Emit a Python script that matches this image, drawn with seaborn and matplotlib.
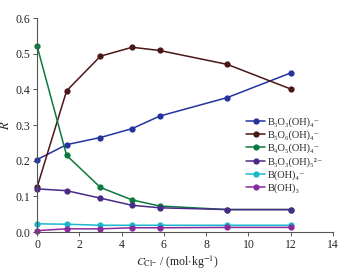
import matplotlib
matplotlib.use("Agg")
import matplotlib.pyplot as plt
import seaborn as sns
import numpy as np

x_cl = [0, 1.4, 3.0, 4.5, 5.8, 9.0, 12.0]
b3o3_oh4 = [0.203, 0.245, 0.265, 0.290, 0.325, 0.377, 0.446]
b5o6_oh4 = [0.125, 0.396, 0.493, 0.518, 0.509, 0.470, 0.401]
b4o5_oh4 = [0.522, 0.215, 0.125, 0.090, 0.073, 0.063, 0.063]
b3o3_oh5 = [0.121, 0.116, 0.095, 0.075, 0.068, 0.063, 0.063]
b_oh4 = [0.023, 0.022, 0.019, 0.019, 0.019, 0.019, 0.019]
b_oh3 = [0.004, 0.009, 0.009, 0.012, 0.012, 0.013, 0.013]

labels = ["B₃O₃(OH)₄⁻", "B₅O₆(OH)₄⁻", "B₄O₅(OH)₄⁻",
          "B₃O₃(OH)₅²⁻", "B(OH)₄⁻", "B(OH)₃"]
series = [b3o3_oh4, b5o6_oh4, b4o5_oh4, b3o3_oh5, b_oh4, b_oh3]
colors = ["#2433a0", "#4a1616", "#0b7a3e", "#4a2a88", "#1ab8cc", "#8a2a9c"]

sns.set_style("ticks")
plt.rcParams["font.family"] = ["Liberation Serif", "DejaVu Serif"]
plt.rcParams["mathtext.fontset"] = "stix"

fig = plt.figure(figsize=(3.44, 2.73), dpi=100)
ax = fig.add_axes([0.1076, 0.150, 0.8604, 0.784])

for ys, lab, c in zip(series, labels, colors):
    sns.lineplot(x=x_cl, y=ys, ax=ax, color=c, marker="o", markersize=4.5,
                 markeredgewidth=0, linewidth=1.1, label=lab, clip_on=False)

ax.set_xlim(0, 14)
ax.set_ylim(0, 0.6)
ax.set_xticks(np.arange(0, 15, 2))
ax.set_yticks(np.arange(0, 0.61, 0.1))
ax.set_yticklabels([f"{v:.1f}" for v in np.arange(0, 0.61, 0.1)])
ax.tick_params(labelsize=8.5, length=3, width=0.7, color="#555555", pad=2)
for s in ["left", "bottom"]:
    ax.spines[s].set_color("#555555")
    ax.spines[s].set_linewidth(0.8)
sns.despine(ax=ax)

ax.set_ylabel(r"$R$", fontsize=9)
ax.yaxis.set_label_coords(-0.085, 0.5)
ax.set_xlabel(r"$C_{\mathrm{Cl}^{-}}$ / (mol$\cdot$kg$^{-1}$)", fontsize=8.5)
ax.xaxis.set_label_coords(0.475, -0.1)

ax.legend(loc="upper left", bbox_to_anchor=(241 / 344, 1 - 112 / 273),
          bbox_transform=fig.transFigure, frameon=False, fontsize=7.5,
          handlelength=1.8, handletextpad=0.3, labelspacing=0.35, borderpad=0)

fig.savefig("out.png", dpi=100)
